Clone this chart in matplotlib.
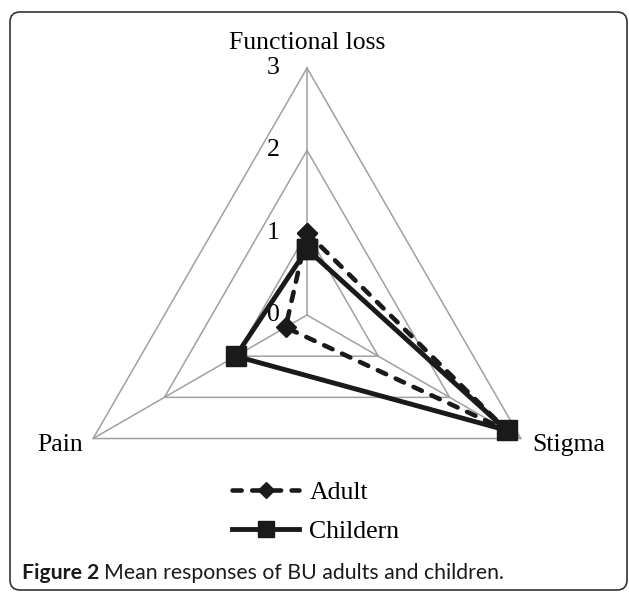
import matplotlib
matplotlib.use("Agg")
import matplotlib.pyplot as plt
import numpy as np
from matplotlib.patches import FancyBboxPatch
from matplotlib.transforms import IdentityTransform

# data
axis_names = ["Functional loss", "Stigma", "Pain"]
adult = [1.0, 2.8, 0.3]
children = [0.8, 2.8, 1.0]
grid_levels = [1, 2, 3]
tick_labels = ["0", "1", "2", "3"]
series_names = ["Adult", "Childern"]

angles = np.deg2rad([0, 120, 240])


def to_xy(values):
    """Converts radar values to closed x/y lists (top axis first, clockwise)."""
    v = np.asarray(values, dtype=float)
    x = v * np.sin(angles)
    y = v * np.cos(angles)
    return np.append(x, x[0]), np.append(y, y[0])


serif = ["Liberation Serif", "DejaVu Serif"]
fs = 18.5

fig = plt.figure(figsize=(6.29, 5.92), dpi=100)
ax = fig.add_axes([0, 0, 1, 1])
ax.set_xlim(-3.729, 3.911)
ax.set_ylim(-3.364, 3.826)
ax.axis("off")

grey = "#a0a0a0"
for lv in grid_levels:
    gx, gy = to_xy([lv] * 3)
    ax.plot(gx, gy, color=grey, lw=1.1, zorder=1)
for a in angles:
    ax.plot([0, 3 * np.sin(a)], [0, 3 * np.cos(a)], color=grey, lw=1.1, zorder=1)

for i, lab in enumerate(tick_labels):
    ax.text(-0.33, i, lab, ha="right", va="center", fontsize=fs, family=serif)

ax.text(0, 3.3, axis_names[0], ha="center", va="center", fontsize=fs, family=serif)
ax.text(2.733, -1.579, axis_names[1], ha="left", va="center", fontsize=fs, family=serif)
ax.text(-2.72, -1.579, axis_names[2], ha="right", va="center", fontsize=fs, family=serif)

ax_x, ax_y = to_xy(adult)
ax.plot(ax_x, ax_y, color="#1a1a1a", lw=3.3, dashes=(2.0, 2.3),
        dash_capstyle="round", marker="D", markersize=10, zorder=3,
        label=series_names[0])
ch_x, ch_y = to_xy(children)
ax.plot(ch_x, ch_y, color="#1a1a1a", lw=3.5, marker="s", markersize=14,
        zorder=4, label=series_names[1])

fig.legend(loc="center", bbox_to_anchor=(316 / 629, 1 - 512 / 592),
           frameon=False, prop={"family": serif, "size": fs},
           handlelength=2.6, handletextpad=0.4, labelspacing=0.62,
           borderpad=0, markerscale=0.85)

# rounded frame around the figure
frame = FancyBboxPatch((10, 2), 617, 578, boxstyle="round,pad=0,rounding_size=10",
                       transform=IdentityTransform(), fill=False,
                       edgecolor="#333333", lw=1.2)
fig.add_artist(frame)

# caption, bold part then regular part
cap_y = 1 - 573 / 592
cap_fs = 15.3
t1 = fig.text(22 / 629, cap_y, "Figure 2", fontsize=cap_fs, fontweight="bold",
              family="Lato", va="center", color="#1a1a1a")
renderer = fig.canvas.get_renderer()
bb = t1.get_window_extent(renderer)
fig.text((bb.x1 + 5) / 629, cap_y, "Mean responses of BU adults and children.",
         fontsize=cap_fs, family="Lato", va="center", color="#1a1a1a")

fig.savefig("out.png", dpi=100)
